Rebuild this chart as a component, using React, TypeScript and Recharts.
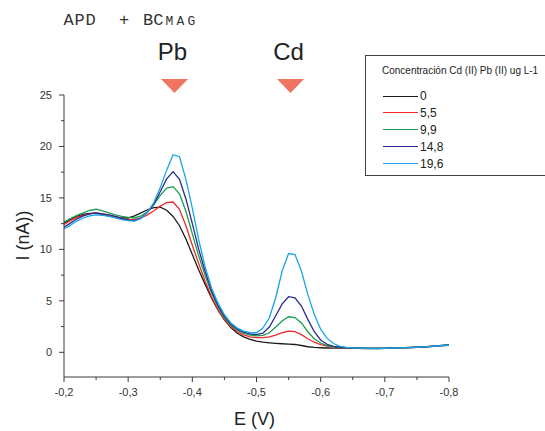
import React from 'react'
import { Legend, Line, LineChart, XAxis, YAxis } from 'recharts'

// potential (V), scanned from -0.2 to -0.8
const potential = [
  -0.2, -0.21, -0.22, -0.23, -0.24, -0.25, -0.26, -0.27, -0.28, -0.29,
  -0.3, -0.31, -0.32, -0.33, -0.34, -0.35, -0.36, -0.37, -0.38, -0.39,
  -0.4, -0.41, -0.42, -0.43, -0.44, -0.45, -0.46, -0.47, -0.48, -0.49,
  -0.5, -0.51, -0.52, -0.53, -0.54, -0.55, -0.56, -0.57, -0.58, -0.59,
  -0.6, -0.61, -0.62, -0.63, -0.64, -0.65, -0.66, -0.67, -0.68, -0.69,
  -0.7, -0.71, -0.72, -0.73, -0.74, -0.75, -0.76, -0.77, -0.78, -0.79,
  -0.8,
]

// current (nA) for each Cd/Pb concentration
const conc0 = [
  12.55, 12.9, 13.2, 13.4, 13.5, 13.5, 13.4, 13.25, 13.15, 13.05,
  13.05, 13.25, 13.55, 13.85, 14.05, 14.1, 13.8, 13.2, 12.3, 11.0,
  9.5, 8.0, 6.6, 5.25, 4.1, 3.15, 2.4, 1.85, 1.5, 1.25,
  1.08, 0.98, 0.92, 0.87, 0.83, 0.8, 0.76, 0.66, 0.54, 0.47,
  0.44, 0.42, 0.41, 0.4, 0.4, 0.39, 0.38, 0.37, 0.37, 0.37,
  0.38, 0.39, 0.41, 0.43, 0.45, 0.48, 0.51, 0.55, 0.6, 0.64,
  0.68,
]
const conc55 = [
  12.4, 12.8, 13.1, 13.3, 13.45, 13.55, 13.45, 13.3, 13.15, 13.0,
  12.9, 12.9, 13.05, 13.35, 13.75, 14.2, 14.55, 14.6, 13.9, 12.3,
  10.4, 8.6, 6.9, 5.4, 4.15, 3.2, 2.5, 2.0, 1.7, 1.5,
  1.42, 1.42, 1.5, 1.68, 1.9, 2.05, 2.0, 1.72, 1.32, 0.98,
  0.74, 0.6, 0.52, 0.47, 0.44, 0.42, 0.4, 0.39, 0.38, 0.38,
  0.39, 0.4, 0.42, 0.44, 0.46, 0.49, 0.52, 0.56, 0.6, 0.65,
  0.7,
]
const conc99 = [
  12.65, 13.0, 13.3, 13.55, 13.8, 13.9, 13.75, 13.55, 13.35, 13.2,
  13.1, 13.05, 13.25, 13.65, 14.35, 15.25, 15.95, 16.1, 15.4, 13.7,
  11.5, 9.35, 7.45, 5.75, 4.4, 3.35, 2.65, 2.15, 1.85, 1.68,
  1.6, 1.65, 1.9, 2.45, 3.05, 3.45, 3.38, 2.85, 2.0, 1.32,
  0.9, 0.66, 0.55, 0.49, 0.45, 0.43, 0.41, 0.4, 0.39, 0.39,
  0.4, 0.42, 0.44, 0.46, 0.48, 0.5, 0.53, 0.58, 0.63, 0.68,
  0.74,
]
const conc148 = [
  12.15, 12.55, 12.95, 13.25, 13.45, 13.55, 13.45, 13.35, 13.2, 13.0,
  12.85, 12.8, 13.05, 13.6, 14.4, 15.6, 16.85, 17.55, 16.8, 14.9,
  12.5, 10.0, 7.85, 5.95, 4.55, 3.5, 2.75, 2.25, 1.95, 1.78,
  1.72, 1.85, 2.45, 3.55, 4.7, 5.4, 5.3, 4.5, 3.2, 2.0,
  1.2, 0.78, 0.58, 0.5, 0.46, 0.43, 0.41, 0.39, 0.38, 0.38,
  0.39, 0.41, 0.43, 0.45, 0.47, 0.5, 0.53, 0.57, 0.62, 0.67,
  0.72,
]
const conc196 = [
  12.0, 12.35, 12.75, 13.05, 13.25, 13.35, 13.3, 13.2, 13.05, 12.9,
  12.8, 12.75, 13.0, 13.6, 14.55, 16.0, 17.7, 19.2, 19.0, 16.8,
  14.0, 10.9, 8.3, 6.25, 4.8, 3.65, 2.85, 2.35, 2.05, 1.9,
  1.9, 2.35, 3.35, 5.3, 7.9, 9.6, 9.5, 7.9, 5.6, 3.7,
  2.25, 1.35, 0.85, 0.58, 0.47, 0.43, 0.4, 0.38, 0.37, 0.37,
  0.38, 0.4, 0.42, 0.44, 0.46, 0.49, 0.52, 0.56, 0.61, 0.66,
  0.7,
]

const seriesNames = ['0', '5,5', '9,9', '14,8', '19,6']
const seriesColors = ['#1c1c1c', '#ee2a2a', '#1b9c4c', '#2a2a8c', '#17a6e8']

const xMajor = [-0.2, -0.3, -0.4, -0.5, -0.6, -0.7, -0.8]
const xTicks = [-0.2, -0.25, -0.3, -0.35, -0.4, -0.45, -0.5, -0.55, -0.6, -0.65, -0.7, -0.75, -0.8]
const yTicks = [0, 2.5, 5, 7.5, 10, 12.5, 15, 17.5, 20, 22.5, 25]

const rows = potential.map((e, i) => ({
  e,
  c0: conc0[i],
  c55: conc55[i],
  c99: conc99[i],
  c148: conc148[i],
  c196: conc196[i],
}))

const FONT = '"Liberation Sans", Arial, sans-serif'
const AXIS = '#3a3a3a'

function XTick({ x, y, payload }: any) {
  const v = payload.value as number
  const major = xMajor.some((m) => Math.abs(m - v) < 1e-6)
  const y0 = y - 11
  return (
    <g>
      <line x1={x} x2={x} y1={y0} y2={y0 + (major ? 5 : 3)} stroke={AXIS} strokeWidth={1} />
      {major && (
        <text x={x} y={y} dy="0.71em" textAnchor="middle" fontSize={11} fill="#333" fontFamily={FONT}>
          {v.toFixed(1).replace('.', ',')}
        </text>
      )}
    </g>
  )
}

function YTick({ x, y, payload }: any) {
  const v = payload.value as number
  const major = v % 5 === 0
  const x0 = x + 12
  return (
    <g>
      <line x1={x0 - (major ? 5 : 3)} x2={x0} y1={y} y2={y} stroke={AXIS} strokeWidth={1} />
      {major && (
        <text x={x} y={y} dy="0.355em" textAnchor="end" fontSize={11} fill="#333" fontFamily={FONT}>
          {v}
        </text>
      )}
    </g>
  )
}

function YLabel({ viewBox }: any) {
  const cy = viewBox.y + viewBox.height / 2 - 0.5
  return (
    <text x={29} y={cy} transform={`rotate(-90, 29, ${cy})`} textAnchor="middle" fontSize={18} fill="#222" fontFamily={FONT}>
      I (nA))
    </text>
  )
}

function XLabel({ viewBox }: any) {
  const cx = viewBox.x + viewBox.width / 2 - 2
  return (
    <text x={cx} y={425} textAnchor="middle" fontSize={18} fill="#222" fontFamily={FONT}>
      E (V)
    </text>
  )
}

function ConcLegend({ payload }: any) {
  // keep the entries in concentration order
  const items = [...(payload ?? [])].sort(
    (a: any, b: any) => seriesNames.indexOf(a.value) - seriesNames.indexOf(b.value),
  )
  return (
    <div
      style={{
        position: 'relative',
        width: 180,
        height: 121,
        boxSizing: 'border-box',
        borderTop: '1px solid #444',
        borderLeft: '1px solid #444',
        borderBottom: '1px solid #444',
        background: '#fff',
        fontFamily: FONT,
        color: '#222',
      }}
    >
      <div style={{ position: 'absolute', left: 16, top: 9, fontSize: 10, whiteSpace: 'nowrap' }}>
        Concentración Cd (II) Pb (II) ug L-1
      </div>
      {items.map((p: any, i: number) => (
        <div key={p.value} style={{ position: 'absolute', left: 17, top: 33 + i * 16.9, height: 14, display: 'flex', alignItems: 'center' }}>
          <div style={{ width: 35, height: 0, borderTop: `1.2px solid ${p.color}` }} />
          <span style={{ fontSize: 12, marginLeft: 2, lineHeight: '14px' }}>{p.value}</span>
        </div>
      ))}
    </div>
  )
}

function Marker({ cx, label }: { cx: number; label: string }) {
  return (
    <g>
      <text x={cx - 2} y={59.5} textAnchor="middle" fontSize={24} fill="#222" fontFamily={FONT}>
        {label}
      </text>
      <polygon points={`${cx - 13.5},79 ${cx + 13.5},79 ${cx},93`} fill="#f07462" />
    </g>
  )
}

export default function App() {
  const keys = ['c0', 'c55', 'c99', 'c148', 'c196']
  return (
    <div style={{ position: 'fixed', left: 0, top: 0, width: 545, height: 431, background: '#fff' }}>
      <LineChart width={545} height={431} data={rows} margin={{ top: 95, right: 96, left: 34, bottom: 24 }}>
        <XAxis
          dataKey="e"
          type="number"
          domain={[-0.8, -0.2]}
          reversed
          ticks={xTicks}
          interval={0}
          tickLine={false}
          tickSize={5}
          tickMargin={6}
          height={30}
          stroke={AXIS}
          tick={<XTick />}
          label={<XLabel />}
        />
        <YAxis
          type="number"
          domain={[-2.4, 25]}
          ticks={yTicks}
          interval={0}
          tickLine={false}
          tickSize={5}
          tickMargin={7}
          width={30}
          stroke={AXIS}
          tick={<YTick />}
          label={<YLabel />}
        />
        <Legend
          layout="vertical"
          align="center"
          verticalAlign="middle"
          wrapperStyle={{ left: 365, top: 55, width: 180, height: 121 }}
          content={<ConcLegend />}
        />
        {keys.map((k, i) => (
          <Line
            key={k}
            type="linear"
            dataKey={k}
            name={seriesNames[i]}
            stroke={seriesColors[i]}
            strokeWidth={1.3}
            dot={false}
            isAnimationActive={false}
          />
        ))}
      </LineChart>
      <svg width={545} height={431} style={{ position: 'absolute', left: 0, top: 0, pointerEvents: 'none' }}>
        <g fontFamily='"Liberation Mono", "DejaVu Sans Mono", monospace' fill="#333">
          <text x={63.5} y={24.5} fontSize={17} letterSpacing={0.8}>APD</text>
          <text x={119} y={24.5} fontSize={17}>+</text>
          <text x={143} y={24.5} fontSize={17} letterSpacing={0}>BC</text>
          <text x={165.5} y={24.5} fontSize={13} letterSpacing={3.2}>MAG</text>
        </g>
        <Marker cx={174.5} label="Pb" />
        <Marker cx={290.5} label="Cd" />
      </svg>
    </div>
  )
}
